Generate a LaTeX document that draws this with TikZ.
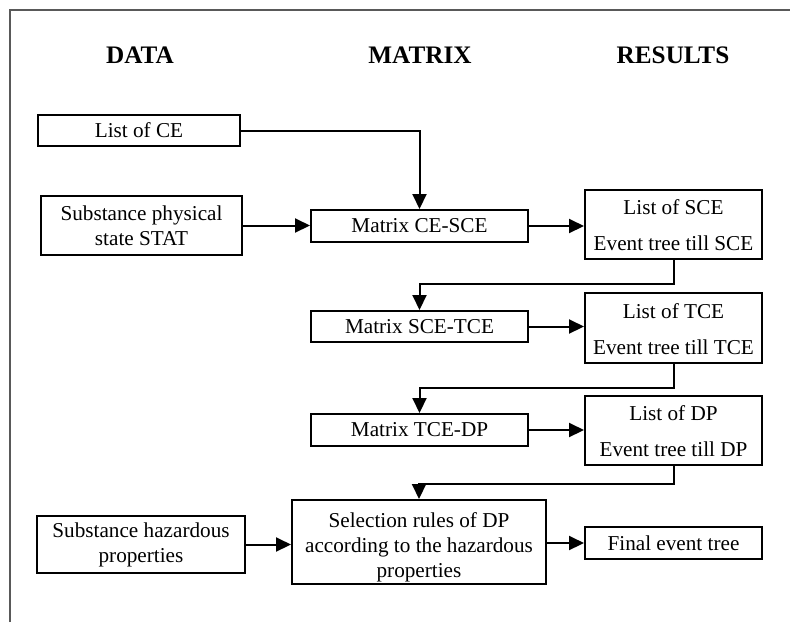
\documentclass[tikz,border=0pt]{standalone}
\usepackage{fontspec}
\setmainfont{Liberation Serif}
\usetikzlibrary{arrows.meta}
\newcommand{\shiftlines}[2]{\raisebox{#1}[\height][\depth]{\begin{tabular}{@{}c@{}}#2\end{tabular}}}
\begin{document}
\begin{tikzpicture}[x=0.5pt,y=-0.5pt,
  box/.style={draw,line width=1pt,align=center,inner sep=0pt,font=\fontsize{10.6}{12.5}\selectfont},
  hdr/.style={font=\fontsize{12.6}{14}\selectfont\bfseries},
  arr/.style={line width=1pt,-{Triangle[length=7.5pt,width=7pt]}},
  frame/.style={line width=0.7pt,black!65}]
\useasboundingbox (0,0) rectangle (790,622);
\draw[frame] (10,622) -- (10,10) -- (790,10);
% headers
\node[hdr] (hdata) at (140,55) {DATA};
\node[hdr] (hmat) at (420,55) {MATRIX};
\node[hdr] (hres) at (673,55) {RESULTS};
% data column
\node[box,minimum width=101pt,minimum height=15.5pt] (ce) at (139,130.5) {List of CE};
\node[box,minimum width=100.5pt,minimum height=29.5pt] (stat) at (141.5,225.5) {\shiftlines{-1pt}{Substance physical\\state STAT}};
\node[box,minimum width=104pt,minimum height=28.5pt] (haz) at (141,544.5) {Substance hazardous\\properties};
% matrix column
\node[box,minimum width=108.5pt,minimum height=16pt] (m1) at (419.5,226) {Matrix CE-SCE};
\node[box,minimum width=108.5pt,minimum height=15.5pt] (m2) at (419.5,326.5) {Matrix SCE-TCE};
\node[box,minimum width=108.5pt,minimum height=16pt] (m3) at (419.5,430) {Matrix TCE-DP};
\node[box,minimum width=127pt,minimum height=42pt] (sel) at (419,542) {\shiftlines{-2.5pt}{Selection rules of DP\\according to the hazardous\\properties}};
% results column
\node[box,minimum width=88.5pt,minimum height=34.5pt] (sce) at (673.5,224.5) {\shiftlines{-1.5pt}{List of SCE\\[5.5pt]Event tree till SCE}};
\node[box,minimum width=88.5pt,minimum height=35pt] (tce) at (673.5,328) {\shiftlines{-1.5pt}{List of TCE\\[5.5pt]Event tree till TCE}};
\node[box,minimum width=88.5pt,minimum height=34.5pt] (dp) at (673.5,430.5) {\shiftlines{-1.5pt}{List of DP\\[5.5pt]Event tree till DP}};
\node[box,minimum width=88.5pt,minimum height=16pt] (fin) at (673.5,543) {Final event tree};
% connectors
\draw[arr] (ce.east) -| (m1.north);
\draw[arr] (stat.east) -- (stat.east -| m1.west);
\draw[arr] (m1.east) -- (m1.east -| sce.west);
\draw[arr] (sce.south) -- ++(0,24) -| (m2.north);
\draw[arr] (m2.east) -- (m2.east -| tce.west);
\draw[arr] (tce.south) -- ++(0,24) -| (m3.north);
\draw[arr] (m3.east) -- (m3.east -| dp.west);
\draw[arr] (dp.south) -- ++(0,18) -| (sel.north);
\draw[arr] (haz.east) -- (haz.east -| sel.west);
\draw[arr] (sel.east |- fin.west) -- (fin.west);
\end{tikzpicture}
\end{document}
